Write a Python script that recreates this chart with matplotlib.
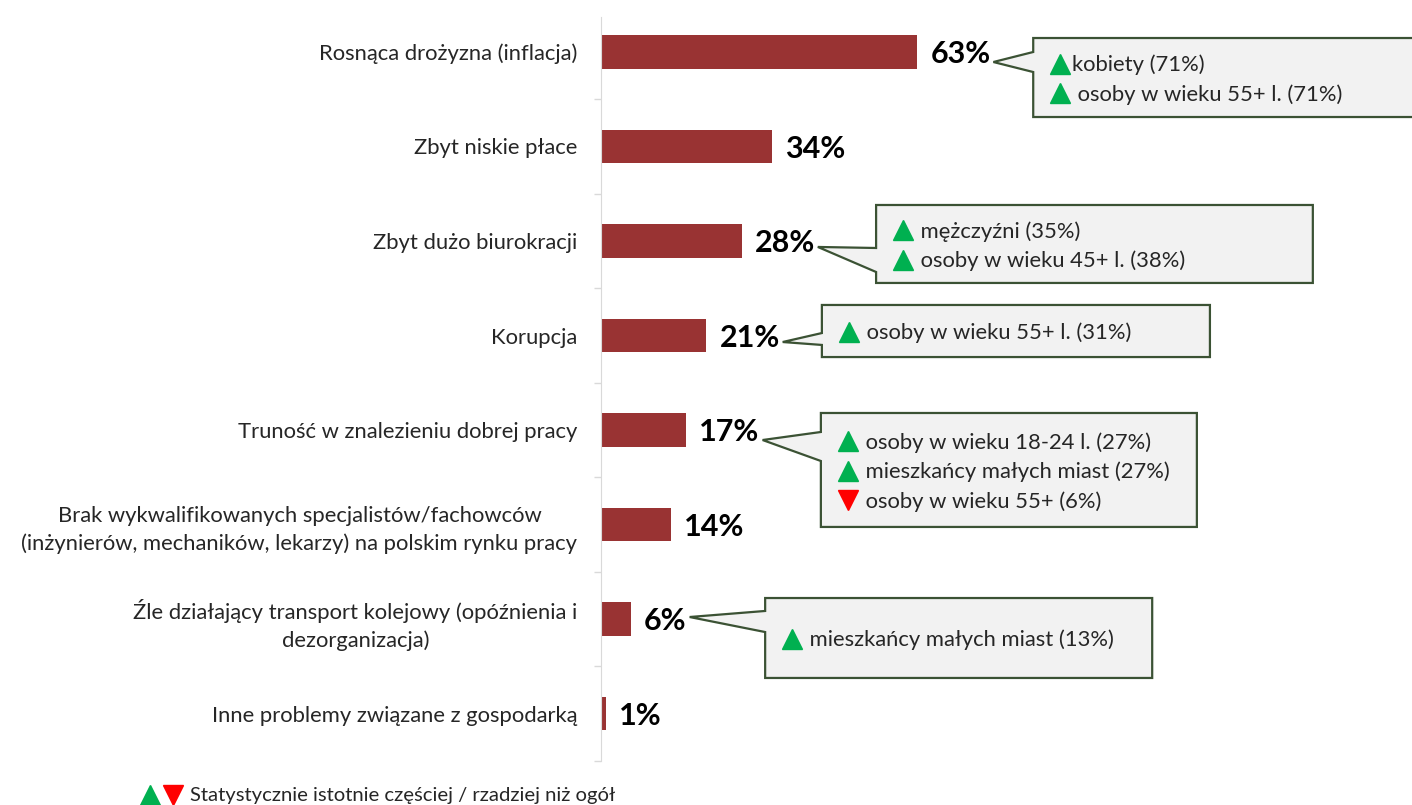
import matplotlib.pyplot as plt
from matplotlib.patches import Polygon
from matplotlib.lines import Line2D

plt.rcParams['font.family'] = ['Lato', 'DejaVu Sans']

categories = [
    "Rosnąca drożyzna (inflacja)",
    "Zbyt niskie płace",
    "Zbyt dużo biurokracji",
    "Korupcja",
    "Truność w znalezieniu dobrej pracy",
    "Brak wykwalifikowanych specjalistów/fachowców\n(inżynierów, mechaników, lekarzy) na polskim rynku pracy",
    "Źle działający transport kolejowy (opóźnienia i\ndezorganizacja)",
    "Inne problemy związane z gospodarką",
]
values = [63, 34, 28, 21, 17, 14, 6, 1]

# callouts: row index -> lines ("^" up / "v" down, text)
callout_rows = [0, 2, 3, 4, 6]
callout_lines = [
    [("^", "kobiety (71%)"), ("^", " osoby w wieku 55+ l. (71%)")],
    [("^", " mężczyźni (35%)"), ("^", " osoby w wieku 45+ l. (38%)")],
    [("^", " osoby w wieku 55+ l. (31%)")],
    [("^", " osoby w wieku 18-24 l. (27%)"), ("^", " mieszkańcy małych miast (27%)"),
     ("v", " osoby w wieku 55+ (6%)")],
    [("^", " mieszkańcy małych miast (13%)")],
]
legend_text = "Statystycznie istotnie częściej / rzadziej niż ogół"

# box geometry: left, right (x data), top, bottom, wedge top, wedge bottom, tip y (offsets from row)
callout_geom = [
    (86.1, 166.0, -0.148, 0.688, 0.00, 0.212, 0.106),
    (54.8, 141.8, -0.381, 0.444, 0.074, 0.328, 0.063),
    (44.0, 121.3, -0.323, 0.228, -0.026, 0.10, 0.069),
    (43.8, 118.7, -0.180, 1.026, 0.021, 0.328, 0.106),
    (32.7, 109.8, -0.222, 0.624, -0.085, 0.138, -0.021),
]

W, H = 1412, 805
fig = plt.figure(figsize=(W / 100, H / 100), dpi=100)
ax = fig.add_axes([601 / W, 44.25 / H, 811 / W, 756 / H])

bar_color = '#993333'
grey = '#d9d9d9'
box_edge = '#3b5234'
green = '#00b050'
red = '#ff0000'
txt_color = '#262626'
fs = 15.8

xmax = 811 / 5.02
ax.set_xlim(0, xmax)
ax.set_ylim(7.5, -0.5)
px = xmax / 811  # data units per pixel (x)
py = 1 / 94.5    # data units per pixel (y)

ypos = list(range(len(categories)))
ax.barh(ypos, values, height=0.35, color=bar_color, zorder=2)

for s in ['top', 'right', 'bottom']:
    ax.spines[s].set_visible(False)
ax.spines['left'].set_color(grey)
ax.spines['left'].set_bounds(7.5, -0.37)
ax.set_xticks([])
ax.set_yticks(ypos)
ax.set_yticklabels(categories, fontsize=fs, color=txt_color, multialignment='center',
                   linespacing=1.45)
ax.tick_params(axis='y', which='major', length=0, pad=17)
ax.set_yticks([i + 0.5 for i in ypos], minor=True)
ax.tick_params(axis='y', which='minor', length=5, color=grey, width=1)

value_texts = []
for i, v in enumerate(values):
    t = ax.text(v + 13 * px, i + 2 * py, f"{v}%", fontsize=22, fontweight='bold',
                va='center', ha='left', color='black', zorder=4)
    value_texts.append(t)

fig.canvas.draw()
renderer = fig.canvas.get_renderer()
inv = ax.transData.inverted()

line_gap = 29.5 * py
for row, lines, geom in zip(callout_rows, callout_lines, callout_geom):
    left, right, top, bottom, wt, wb, ty = geom
    bb = value_texts[row].get_window_extent(renderer)
    tip_x = inv.transform((bb.x1 + 3, bb.y0))[0]
    verts = [
        (left, row + top), (right, row + top), (right, row + bottom), (left, row + bottom),
        (left, row + wb), (tip_x, row + ty), (left, row + wt),
    ]
    ax.add_patch(Polygon(verts, closed=True, facecolor='#f2f2f2', edgecolor=box_edge,
                         linewidth=1.6, clip_on=False, zorder=3))
    yc = row + (top + bottom) / 2
    n = len(lines)
    for k, (mk, label) in enumerate(lines):
        ly = yc + (k - (n - 1) / 2) * line_gap + 2 * py
        tx = left + 17 * px
        ax.plot([tx + 10 * px], [ly - 1 * py], marker=mk, markersize=14, linestyle='none',
                color=green if mk == '^' else red, clip_on=False, zorder=4)
        ax.text(tx + 22 * px, ly, label, fontsize=fs, color=txt_color,
                va='center', ha='left', clip_on=False, zorder=4)

# legend note at the bottom
ly = 1 - 795 / H
fig.add_artist(Line2D([150 / W], [ly], marker='^', markersize=14, color=green,
                      linestyle='none', transform=fig.transFigure))
fig.add_artist(Line2D([173 / W], [ly], marker='v', markersize=14, color=red,
                      linestyle='none', transform=fig.transFigure))
fig.text(190 / W, ly, legend_text, fontsize=14.6, color=txt_color, va='center', ha='left')

fig.savefig('out.png', dpi=100)
